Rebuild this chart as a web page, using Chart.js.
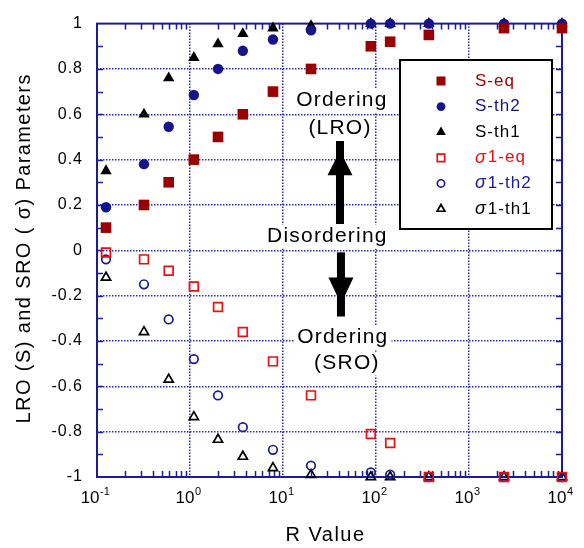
<!DOCTYPE html>
<html>
<head>
<meta charset="utf-8">
<title>LRO / SRO parameters</title>
<script src="https://cdn.jsdelivr.net/npm/chart.js@4.4.0/dist/chart.umd.min.js"></script>
<style>
	html, body { margin: 0; padding: 0; background: #fff; }
</style>
</head>
<body>
<canvas id="grafico-parametros" width="584" height="548"></canvas>
<script>
// valores
var valoresR = [0.125, 0.32, 0.59, 1.1, 2.0, 3.7, 7.8, 20, 88, 142, 370, 2380, 10000];

var sEq   = [0.10, 0.20, 0.30, 0.40, 0.50, 0.60, 0.70, 0.80, 0.90, 0.92, 0.95, 0.98, 0.98];
var sTh2  = [0.19, 0.38, 0.545, 0.685, 0.80, 0.88, 0.93, 0.97, 1.0, 1.0, 1.0, 1.0, 1.0];
var sTh1  = [0.35, 0.60, 0.76, 0.85, 0.91, 0.955, 0.98, 0.99, 1.0, 1.0, 1.0, 1.0, 1.0];

var sigEq  = [-0.01, -0.04, -0.09, -0.16, -0.25, -0.36, -0.49, -0.64, -0.81, -0.85, -1.0, -1.0, -1.0];
var sigTh2 = [-0.04, -0.15, -0.305, -0.48, -0.64, -0.78, -0.88, -0.95, -0.98, -0.99, -1.0, -1.0, -1.0];
var sigTh1 = [-0.12, -0.36, -0.57, -0.735, -0.835, -0.91, -0.96, -0.99, -1.0, -1.0, -1.0, -1.0, -1.0];

var rotulosY = ['-1', '-0.8', '-0.6', '-0.4', '-0.2', '0', '0.2', '0.4', '0.6', '0.8', '1'];
var expoentesX = ['-1', '0', '1', '2', '3', '4'];

var tituloX = 'R Value';
var tituloY = 'LRO (S) and SRO ( σ) Parameters';

var FONTE = '"Liberation Sans", Arial, Helvetica, sans-serif';
var AZUL_EIXO = '#1c1c98';
var AZUL_GRADE = '#2a2ab0';

function pontos(ys) {
	return valoresR.map(function(r, i) { return { x: r, y: ys[i] }; });
}

function serie(label, ys, estilo, cor, cheio, raio) {
	return {
		label: label,
		data: pontos(ys),
		showLine: false,
		clip: false,
		pointStyle: estilo,
		pointRadius: raio,
		pointHoverRadius: raio,
		backgroundColor: cheio ? cor : 'rgba(0,0,0,0)',
		borderColor: cor,
		pointBorderWidth: cheio ? 0 : 1.7,
		cheio: cheio
	};
}

function ehDecada(v) {
	var e = Math.log10(v);
	return Math.abs(e - Math.round(e)) < 1e-6;
}

function corGradeX(ctx) {
	if (!ctx.tick) return 'rgba(0,0,0,0)';
	var v = ctx.tick.value;
	if (ehDecada(v) && v > 0.15 && v < 5000) return AZUL_GRADE;
	return 'rgba(0,0,0,0)';
}

function corGradeY(ctx) {
	if (!ctx.tick) return 'rgba(0,0,0,0)';
	var v = ctx.tick.value;
	if (v > -0.95 && v < 0.95) return AZUL_GRADE;
	return 'rgba(0,0,0,0)';
}

function espacamento(c, px) {
	if ('letterSpacing' in c) c.letterSpacing = px + 'px';
}

// marcador usado na legenda
function marcador(c, estilo, x, y, r, fundo, borda, cheio) {
	c.save();
	c.beginPath();
	if (estilo === 'rect') {
		var s = Math.SQRT1_2 * r;
		c.rect(x - s, y - s, 2 * s, 2 * s);
	} else if (estilo === 'triangle') {
		c.moveTo(x, y - r);
		c.lineTo(x + Math.sin(2 * Math.PI / 3) * r, y + r / 2);
		c.lineTo(x - Math.sin(2 * Math.PI / 3) * r, y + r / 2);
		c.closePath();
	} else {
		c.arc(x, y, r, 0, Math.PI * 2);
	}
	if (cheio) {
		c.fillStyle = fundo;
		c.fill();
	} else {
		c.lineWidth = 1.7;
		c.strokeStyle = borda;
		c.stroke();
	}
	c.restore();
}

function textoComFundo(c, txt, x, y) {
	var w = c.measureText(txt).width;
	c.fillStyle = '#fff';
	c.fillRect(x - w / 2 - 3, y - 12, w + 6, 24);
	c.fillStyle = '#000';
	c.fillText(txt, x, y);
}

var notas = [
	{ texto: 'Ordering', r: 43, v: 0.66 },
	{ texto: '(LRO)', r: 41, v: 0.54 },
	{ texto: 'Disordering', r: 30, v: 0.06 },
	{ texto: 'Ordering', r: 44, v: -0.385 },
	{ texto: '(SRO)', r: 48.6, v: -0.50 }
];

var setas = [
	{ r: 41, inicio: 0.482, fim: 0.116, ponta: 0.439, base: 0.331 },
	{ r: 42, inicio: -0.009, fim: -0.292, ponta: -0.237, base: -0.12 }
];

var pluginDecoracao = {
	id: 'decoracao',
	beforeDraw: function(chart) {
		// o original tem o texto um pouco espacado
		espacamento(chart.ctx, 1);
	},
	beforeDatasetsDraw: function(chart) {
		var c = chart.ctx;
		var sx = chart.scales.x, sy = chart.scales.y;
		var a = chart.chartArea;

		// textos do meio, com fundo branco por cima da grade
		c.save();
		c.font = '21px ' + FONTE;
		c.textAlign = 'center';
		c.textBaseline = 'middle';
		espacamento(c, 1.2);
		notas.forEach(function(n) {
			textoComFundo(c, n.texto, sx.getPixelForValue(n.r), sy.getPixelForValue(n.v));
		});
		c.restore();

		c.save();
		c.fillStyle = '#000';
		setas.forEach(function(s) {
			var x = sx.getPixelForValue(s.r);
			var y1 = sy.getPixelForValue(s.inicio), y2 = sy.getPixelForValue(s.fim);
			c.fillRect(x - 4, Math.min(y1, y2), 8, Math.abs(y2 - y1));
			var yp = sy.getPixelForValue(s.ponta), yb = sy.getPixelForValue(s.base);
			c.beginPath();
			c.moveTo(x, yp);
			c.lineTo(x + 12.5, yb);
			c.lineTo(x - 12.5, yb);
			c.closePath();
			c.fill();
		});
		c.restore();

		// moldura e marcas menores
		c.save();
		c.strokeStyle = AZUL_EIXO;
		c.lineWidth = 1.5;
		c.beginPath();
		for (var k = -9; k <= 9; k++) {
			var y = Math.round(sy.getPixelForValue(k / 10)) + 0.5;
			c.moveTo(a.left, y); c.lineTo(a.left + 6, y);
			c.moveTo(a.right, y); c.lineTo(a.right - 6, y);
		}
		for (var d = -1; d <= 3; d++) {
			for (var m = 2; m <= 9; m++) {
				var x = Math.round(sx.getPixelForValue(m * Math.pow(10, d))) + 0.5;
				c.moveTo(x, a.bottom); c.lineTo(x, a.bottom - 6);
				c.moveTo(x, a.top); c.lineTo(x, a.top + 6);
			}
		}
		c.stroke();
		c.lineWidth = 2;
		c.strokeRect(a.left, a.top, a.right - a.left, a.bottom - a.top);
		c.restore();
	},
	afterDraw: function(chart) {
		var c = chart.ctx;
		var sx = chart.scales.x;
		var a = chart.chartArea;

		// rotulos 10^n do eixo x
		c.save();
		c.fillStyle = '#000';
		c.textBaseline = 'alphabetic';
		c.textAlign = 'left';
		espacamento(c, 0);
		expoentesX.forEach(function(e) {
			var x = sx.getPixelForValue(Math.pow(10, Number(e)));
			c.font = '17px ' + FONTE;
			var wb = c.measureText('10').width;
			c.font = '11px ' + FONTE;
			var we = c.measureText(e).width;
			var x0 = x - (wb + we) / 2 - 2;
			c.font = '17px ' + FONTE;
			c.fillText('10', x0, a.bottom + 26);
			c.font = '11px ' + FONTE;
			c.fillText(e, x0 + wb + 0.5, a.bottom + 18);
		});
		c.restore();

		// titulos dos eixos
		c.save();
		c.fillStyle = '#000';
		c.textAlign = 'center';
		c.textBaseline = 'middle';
		c.font = '20px ' + FONTE;
		espacamento(c, 1.5);
		c.fillText(tituloX, (a.left + a.right) / 2 - 4, 535);
		c.translate(24, (a.top + a.bottom) / 2 - 2);
		c.rotate(-Math.PI / 2);
		espacamento(c, 1.4);
		c.fillText(tituloY, 0, 0);
		c.restore();

		// legenda dentro da area do grafico
		var lx = 400, ly = 60, lw = 152, lh = 169;
		c.save();
		c.fillStyle = '#fff';
		c.fillRect(lx, ly, lw, lh);
		c.strokeStyle = '#000';
		c.lineWidth = 2;
		c.strokeRect(lx, ly, lw, lh);
		c.textBaseline = 'middle';
		c.textAlign = 'left';
		espacamento(c, 1);
		chart.data.datasets.forEach(function(ds, i) {
			var y = ly + 21 + i * 25.6;
			var r = ds.pointRadius * 0.85;
			marcador(c, ds.pointStyle, 441, y, r, ds.backgroundColor, ds.borderColor, ds.cheio);
			c.fillStyle = ds.borderColor;
			var tx = 475;
			var txt = ds.label;
			if (txt.charAt(0) === 'σ') {
				c.font = 'italic 18px ' + FONTE;
				c.fillText('σ', tx, y);
				tx += c.measureText('σ').width + 1;
				txt = txt.slice(1);
			}
			c.font = '17px ' + FONTE;
			c.fillText(txt, tx, y);
		});
		c.restore();
	}
};

var ctx = document.getElementById('grafico-parametros');

var dados = {
	datasets: [
		serie('S-eq', sEq, 'rect', '#990000', true, 7.5),
		serie('S-th2', sTh2, 'circle', '#14148c', true, 5.2),
		serie('S-th1', sTh1, 'triangle', '#000000', true, 6.6),
		serie('σ1-eq', sigEq, 'rect', '#e81010', false, 6.2),
		serie('σ1-th2', sigTh2, 'circle', '#1a1a9a', false, 4.3),
		serie('σ1-th1', sigTh1, 'triangle', '#000000', false, 5.3)
	]
};

var opcoes = {
	responsive: false,
	animation: false,
	layout: { padding: { top: 13, right: 22, left: 0, bottom: 0 } },
	plugins: {
		legend: { display: false },
		tooltip: { enabled: false }
	},
	scales: {
		x: {
			type: 'logarithmic',
			position: 'bottom',
			min: 0.1,
			max: 10000,
			afterFit: function(s) { s.height = 71; },
			ticks: { display: false },
			grid: { color: corGradeX, lineWidth: 1.5, drawTicks: false },
			border: { display: false, dash: [1.5, 1.5] }
		},
		y: {
			min: -1,
			max: 1,
			afterFit: function(s) { s.width = 97; },
			ticks: {
				stepSize: 0.2,
				color: '#000',
				padding: 14,
				font: { family: FONTE, size: 16 },
				callback: function(valor, indice) { return rotulosY[indice]; }
			},
			grid: { color: corGradeY, lineWidth: 1.5, drawTicks: false },
			border: { display: false, dash: [1.5, 1.5] }
		}
	}
};

var graficoParametros = new Chart(ctx, {
	type: 'scatter',
	data: dados,
	options: opcoes,
	plugins: [pluginDecoracao]
});
</script>
</body>
</html>
